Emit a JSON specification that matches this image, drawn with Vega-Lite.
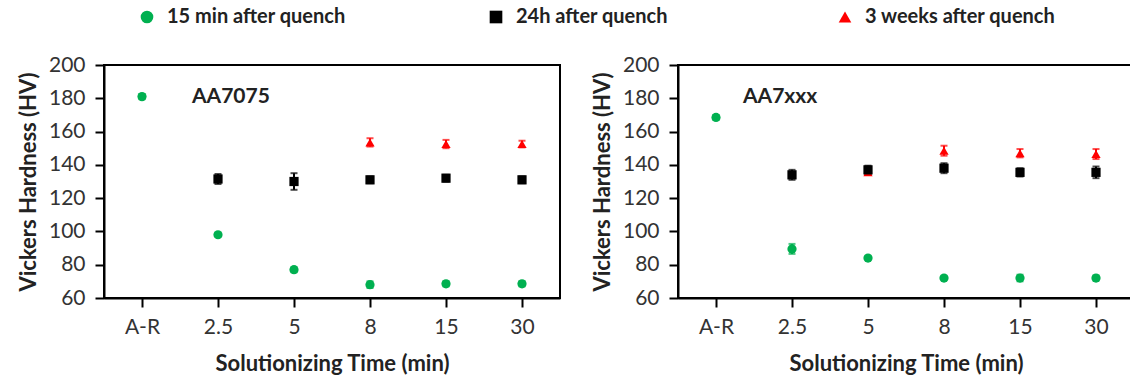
{
  "$schema": "https://vega.github.io/schema/vega-lite/v6.json",
  "padding": {"left": 16, "top": 7, "right": 0, "bottom": 3},
  "background": "white",
  "data": {"values": [
    {"panel": "AA7075", "time": "8", "series": "3 weeks after quench", "hv": 153.5, "lo": 151, "hi": 156},
    {"panel": "AA7075", "time": "15", "series": "3 weeks after quench", "hv": 152.5, "lo": 150, "hi": 155},
    {"panel": "AA7075", "time": "30", "series": "3 weeks after quench", "hv": 152.5, "lo": 150.5, "hi": 154.5},
    {"panel": "AA7075", "time": "2.5", "series": "24h after quench", "hv": 131.5, "lo": 128.5, "hi": 134.5},
    {"panel": "AA7075", "time": "5", "series": "24h after quench", "hv": 130, "lo": 125, "hi": 135},
    {"panel": "AA7075", "time": "8", "series": "24h after quench", "hv": 131, "lo": 129, "hi": 133},
    {"panel": "AA7075", "time": "15", "series": "24h after quench", "hv": 132, "lo": 130, "hi": 134},
    {"panel": "AA7075", "time": "30", "series": "24h after quench", "hv": 131, "lo": 129, "hi": 133},
    {"panel": "AA7075", "time": "A-R", "series": "15 min after quench", "hv": 181, "lo": 179.5, "hi": 182.5},
    {"panel": "AA7075", "time": "2.5", "series": "15 min after quench", "hv": 98, "lo": 97, "hi": 99},
    {"panel": "AA7075", "time": "5", "series": "15 min after quench", "hv": 77, "lo": 75.5, "hi": 78.5},
    {"panel": "AA7075", "time": "8", "series": "15 min after quench", "hv": 68, "lo": 66, "hi": 70},
    {"panel": "AA7075", "time": "15", "series": "15 min after quench", "hv": 68.5, "lo": 67, "hi": 70},
    {"panel": "AA7075", "time": "30", "series": "15 min after quench", "hv": 68.5, "lo": 67, "hi": 70},
    {"panel": "AA7xxx", "time": "5", "series": "3 weeks after quench", "hv": 135.5, "lo": 134.5, "hi": 136.5},
    {"panel": "AA7xxx", "time": "8", "series": "3 weeks after quench", "hv": 148.5, "lo": 145.5, "hi": 151.5},
    {"panel": "AA7xxx", "time": "15", "series": "3 weeks after quench", "hv": 147, "lo": 144.5, "hi": 149.5},
    {"panel": "AA7xxx", "time": "30", "series": "3 weeks after quench", "hv": 146.5, "lo": 143.5, "hi": 149.5},
    {"panel": "AA7xxx", "time": "2.5", "series": "24h after quench", "hv": 134, "lo": 131, "hi": 137},
    {"panel": "AA7xxx", "time": "5", "series": "24h after quench", "hv": 137, "lo": 134.5, "hi": 139.5},
    {"panel": "AA7xxx", "time": "8", "series": "24h after quench", "hv": 138, "lo": 135, "hi": 141},
    {"panel": "AA7xxx", "time": "15", "series": "24h after quench", "hv": 135.5, "lo": 133, "hi": 138},
    {"panel": "AA7xxx", "time": "30", "series": "24h after quench", "hv": 135.5, "lo": 132, "hi": 139},
    {"panel": "AA7xxx", "time": "A-R", "series": "15 min after quench", "hv": 168.5, "lo": 167, "hi": 170},
    {"panel": "AA7xxx", "time": "2.5", "series": "15 min after quench", "hv": 89.5, "lo": 86.5, "hi": 92.5},
    {"panel": "AA7xxx", "time": "5", "series": "15 min after quench", "hv": 84, "lo": 83, "hi": 85},
    {"panel": "AA7xxx", "time": "8", "series": "15 min after quench", "hv": 72, "lo": 71, "hi": 73},
    {"panel": "AA7xxx", "time": "15", "series": "15 min after quench", "hv": 72, "lo": 70, "hi": 74},
    {"panel": "AA7xxx", "time": "30", "series": "15 min after quench", "hv": 72, "lo": 70.5, "hi": 73.5}
  ]},
  "config": {
    "font": "Lato",
    "view": {"stroke": "#000000", "strokeWidth": 2},
    "axis": {
      "grid": false,
      "domainColor": "#000000",
      "domainWidth": 2,
      "tickColor": "#000000",
      "tickWidth": 2,
      "labelFont": "Lato",
      "labelFontSize": 21,
      "labelColor": "#333333",
      "labelOverlap": false,
      "titleFont": "Lato",
      "titleFontSize": 22,
      "titleFontWeight": "bold",
      "titleColor": "#222222"
    },
    "axisY": {"tickCount": 8},
    "legend": {
      "orient": "none",
      "legendX": 33,
      "legendY": -58,
      "direction": "horizontal",
      "columns": 3,
      "gridAlign": "all",
      "columnPadding": 128,
      "labelFont": "Lato",
      "labelFontSize": 20,
      "labelFontWeight": "bold",
      "labelColor": "#222222",
      "labelOffset": 10,
      "labelLimit": 400,
      "symbolSize": 160,
      "symbolStrokeWidth": 0,
      "symbolOpacity": 1,
      "padding": 0
    }
  },
  "spacing": 118,
  "bounds": "flush",
  "resolve": {"scale": {"color": "shared", "shape": "shared"}, "legend": {"color": "shared", "shape": "shared"}},
  "hconcat": [
    {
      "width": 456,
      "height": 233,
      "transform": [{"filter": "datum.panel === 'AA7075'"}],
      "encoding": {
        "x": {"field": "time", "type": "ordinal", "sort": ["A-R", "2.5", "5", "8", "15", "30"], "scale": {"type": "point", "domain": ["A-R", "2.5", "5", "8", "15", "30"], "padding": 0.5},
              "axis": {"labelAngle": 0, "tickSize": 9, "labelPadding": 9, "title": "Solutionizing Time (min)", "titlePadding": 16}},
        "color": {"field": "series", "type": "nominal", "title": null, "scale": {"domain": ["15 min after quench", "24h after quench", "3 weeks after quench"], "range": ["#00b050", "#000000", "#ff0000"]}}
      },
      "layer": [
        {
          "mark": {"type": "rule", "strokeWidth": 2},
          "encoding": {
            "y": {"field": "lo", "type": "quantitative", "scale": {"domain": [60, 200], "nice": false},
                  "axis": {"values": [60, 80, 100, 120, 140, 160, 180, 200], "tickCount": 8, "tickSize": 9, "labelPadding": 10, "title": "Vickers Hardness (HV)", "titlePadding": 8}},
            "y2": {"field": "hi"}
          }
        },
        {
          "mark": {"type": "tick", "size": 7, "thickness": 2},
          "encoding": {
            "y": {"field": "lo", "type": "quantitative"}
          }
        },
        {
          "mark": {"type": "tick", "size": 7, "thickness": 2},
          "encoding": {
            "y": {"field": "hi", "type": "quantitative"}
          }
        },
        {
          "mark": {"type": "point", "filled": true, "opacity": 1, "size": 85},
          "encoding": {
            "y": {"field": "hv", "type": "quantitative"},
            "shape": {"field": "series", "type": "nominal", "title": null, "scale": {"domain": ["15 min after quench", "24h after quench", "3 weeks after quench"], "range": ["circle", "square", "triangle-up"]}}
          }
        },
        {
          "data": {"values": [{}]},
          "mark": {"type": "text", "align": "left", "baseline": "middle", "dx": 50, "fontSize": 21, "fontWeight": "bold", "color": "#222222"},
          "encoding": {
            "x": {"datum": "A-R"},
            "y": {"datum": 181},
            "text": {"value": "AA7075"},
            "color": {"value": "#222222"}
          }
        }
      ]
    },
    {
      "width": 456,
      "height": 233,
      "transform": [{"filter": "datum.panel === 'AA7xxx'"}],
      "encoding": {
        "x": {"field": "time", "type": "ordinal", "sort": ["A-R", "2.5", "5", "8", "15", "30"], "scale": {"type": "point", "domain": ["A-R", "2.5", "5", "8", "15", "30"], "padding": 0.5},
              "axis": {"labelAngle": 0, "tickSize": 9, "labelPadding": 9, "title": "Solutionizing Time (min)", "titlePadding": 16}},
        "color": {"field": "series", "type": "nominal", "title": null, "scale": {"domain": ["15 min after quench", "24h after quench", "3 weeks after quench"], "range": ["#00b050", "#000000", "#ff0000"]}}
      },
      "layer": [
        {
          "mark": {"type": "rule", "strokeWidth": 2},
          "encoding": {
            "y": {"field": "lo", "type": "quantitative", "scale": {"domain": [60, 200], "nice": false},
                  "axis": {"values": [60, 80, 100, 120, 140, 160, 180, 200], "tickCount": 8, "tickSize": 9, "labelPadding": 10, "title": "Vickers Hardness (HV)", "titlePadding": 8}},
            "y2": {"field": "hi"}
          }
        },
        {
          "mark": {"type": "tick", "size": 7, "thickness": 2},
          "encoding": {
            "y": {"field": "lo", "type": "quantitative"}
          }
        },
        {
          "mark": {"type": "tick", "size": 7, "thickness": 2},
          "encoding": {
            "y": {"field": "hi", "type": "quantitative"}
          }
        },
        {
          "mark": {"type": "point", "filled": true, "opacity": 1, "size": 85},
          "encoding": {
            "y": {"field": "hv", "type": "quantitative"},
            "shape": {"field": "series", "type": "nominal", "title": null, "scale": {"domain": ["15 min after quench", "24h after quench", "3 weeks after quench"], "range": ["circle", "square", "triangle-up"]}}
          }
        },
        {
          "data": {"values": [{}]},
          "mark": {"type": "text", "align": "left", "baseline": "middle", "dx": 27, "fontSize": 21, "fontWeight": "bold", "color": "#222222"},
          "encoding": {
            "x": {"datum": "A-R"},
            "y": {"datum": 181},
            "text": {"value": "AA7xxx"},
            "color": {"value": "#222222"}
          }
        }
      ]
    }
  ]
}
